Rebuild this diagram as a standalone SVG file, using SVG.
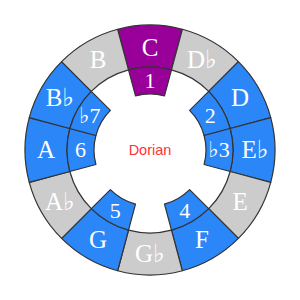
<svg xmlns="http://www.w3.org/2000/svg" width="300" height="300" viewBox="0 0 300 300">
<style>
.seg{stroke:#333;stroke-width:1.2;stroke-linejoin:round}
.blue{fill:#2b86f8}
.gray{fill:#cccccc}
.purple{fill:#990099}
.lo{font-family:"Liberation Serif","DejaVu Serif",serif;font-size:25px;fill:#fff;text-anchor:middle}
.li{font-family:"Liberation Serif","DejaVu Serif",serif;font-size:22px;fill:#fff;text-anchor:middle}
.title{font-family:"Liberation Sans",Arial,sans-serif;font-size:14.5px;fill:#ff3333;text-anchor:middle}
</style>
<rect width="300" height="300" fill="#fff"/>
<g id="C">
<path class="seg purple" d="M117.65,29.26 A125,125 0 0 1 182.35,29.26 L171.48,69.83 A83,83 0 0 0 128.52,69.83 Z"/>
<path class="seg purple" d="M128.52,69.83 A83,83 0 0 1 171.48,69.83 L164.49,95.91 A56,56 0 0 0 135.51,95.91 Z"/>
<text class="lo" x="150" y="56">C</text>
<text class="li" x="150" y="88">1</text>
</g>
<g id="Db">
<path class="seg gray" d="M182.35,29.26 A125,125 0 0 1 238.39,61.61 L208.69,91.31 A83,83 0 0 0 171.48,69.83 Z"/>
<text class="lo" x="202" y="68.3">D♭</text>
</g>
<g id="D">
<path class="seg blue" d="M238.39,61.61 A125,125 0 0 1 270.74,117.65 L230.17,128.52 A83,83 0 0 0 208.69,91.31 Z"/>
<path class="seg blue" d="M208.69,91.31 A83,83 0 0 1 230.17,128.52 L204.09,135.51 A56,56 0 0 0 189.60,110.40 Z"/>
<text class="lo" x="240.1" y="106.3">D</text>
<text class="li" x="210.2" y="122.7">2</text>
</g>
<g id="Eb">
<path class="seg blue" d="M270.74,117.65 A125,125 0 0 1 270.74,182.35 L230.17,171.48 A83,83 0 0 0 230.17,128.52 Z"/>
<path class="seg blue" d="M230.17,128.52 A83,83 0 0 1 230.17,171.48 L204.09,164.49 A56,56 0 0 0 204.09,135.51 Z"/>
<text class="lo" x="255" y="158.3">E♭</text>
<text class="li" x="219" y="157.4">♭3</text>
</g>
<g id="E">
<path class="seg gray" d="M270.74,182.35 A125,125 0 0 1 238.39,238.39 L208.69,208.69 A83,83 0 0 0 230.17,171.48 Z"/>
<text class="lo" x="240.1" y="210.3">E</text>
</g>
<g id="F">
<path class="seg blue" d="M238.39,238.39 A125,125 0 0 1 182.35,270.74 L171.48,230.17 A83,83 0 0 0 208.69,208.69 Z"/>
<path class="seg blue" d="M208.69,208.69 A83,83 0 0 1 171.48,230.17 L164.49,204.09 A56,56 0 0 0 189.60,189.60 Z"/>
<text class="lo" x="202" y="248.4">F</text>
<text class="li" x="184.75" y="217.6">4</text>
</g>
<g id="Gb">
<path class="seg gray" d="M182.35,270.74 A125,125 0 0 1 117.65,270.74 L128.52,230.17 A83,83 0 0 0 171.48,230.17 Z"/>
<text class="lo" x="150" y="262.3">G♭</text>
</g>
<g id="G">
<path class="seg blue" d="M117.65,270.74 A125,125 0 0 1 61.61,238.39 L91.31,208.69 A83,83 0 0 0 128.52,230.17 Z"/>
<path class="seg blue" d="M128.52,230.17 A83,83 0 0 1 91.31,208.69 L110.40,189.60 A56,56 0 0 0 135.51,204.09 Z"/>
<text class="lo" x="98" y="248.4">G</text>
<text class="li" x="115.25" y="217.6">5</text>
</g>
<g id="Ab">
<path class="seg gray" d="M61.61,238.39 A125,125 0 0 1 29.26,182.35 L69.83,171.48 A83,83 0 0 0 91.31,208.69 Z"/>
<text class="lo" x="59.9" y="210.3">A♭</text>
</g>
<g id="A">
<path class="seg blue" d="M29.26,182.35 A125,125 0 0 1 29.26,117.65 L69.83,128.52 A83,83 0 0 0 69.83,171.48 Z"/>
<path class="seg blue" d="M69.83,171.48 A83,83 0 0 1 69.83,128.52 L95.91,135.51 A56,56 0 0 0 95.91,164.49 Z"/>
<text class="lo" x="46" y="158.3">A</text>
<text class="li" x="80.5" y="157.4">6</text>
</g>
<g id="Bb">
<path class="seg blue" d="M29.26,117.65 A125,125 0 0 1 61.61,61.61 L91.31,91.31 A83,83 0 0 0 69.83,128.52 Z"/>
<path class="seg blue" d="M69.83,128.52 A83,83 0 0 1 91.31,91.31 L110.40,110.40 A56,56 0 0 0 95.91,135.51 Z"/>
<text class="lo" x="59.9" y="106.3">B♭</text>
<text class="li" x="89.8" y="122.7">♭7</text>
</g>
<g id="B">
<path class="seg gray" d="M61.61,61.61 A125,125 0 0 1 117.65,29.26 L128.52,69.83 A83,83 0 0 0 91.31,91.31 Z"/>
<text class="lo" x="98" y="68.3">B</text>
</g>
<g id="title">
<text class="title" x="150" y="154.5">Dorian</text>
</g>
</svg>
